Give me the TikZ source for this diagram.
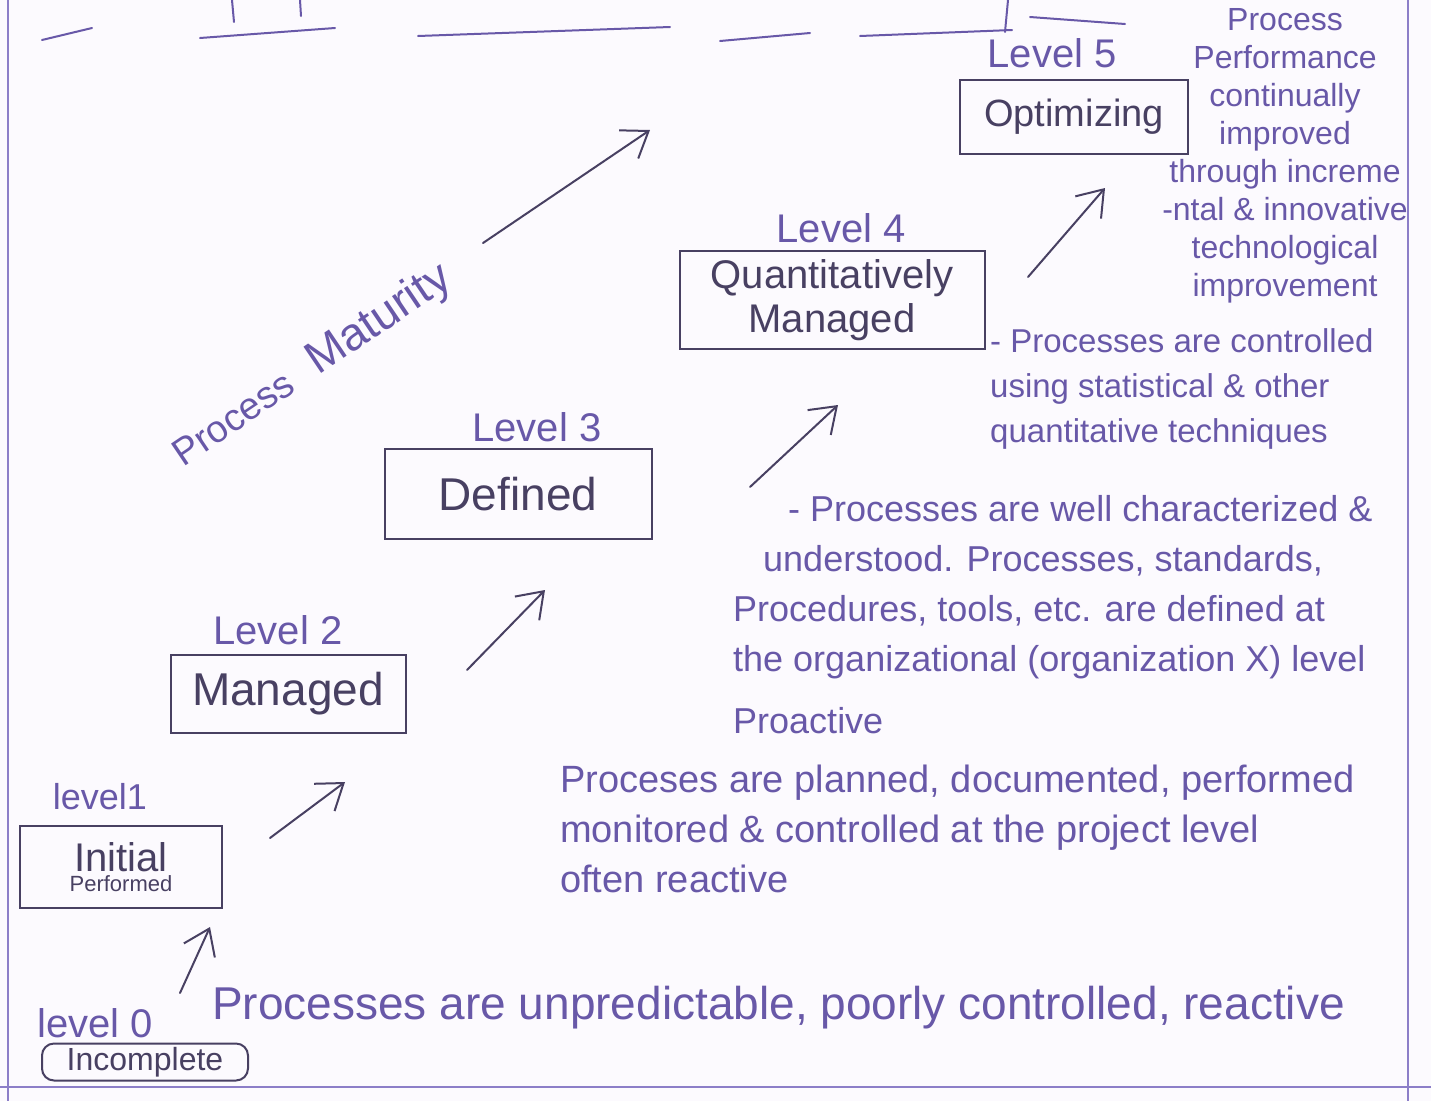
\documentclass[tikz,border=0pt]{standalone}
\usepackage{fontspec}
\setmainfont{Liberation Sans}
\usetikzlibrary{arrows.meta,positioning}
\definecolor{ink}{RGB}{104,88,168}
\definecolor{pencil}{RGB}{72,64,98}
\definecolor{rule}{RGB}{140,126,200}
\definecolor{paper}{RGB}{252,250,254}
\newcommand{\fsz}[2]{\fontsize{#1pt}{#2pt}\selectfont}

\begin{document}
\begin{tikzpicture}[x=1pt,y=-1pt,
  box/.style={draw=pencil,line width=2pt,text=pencil,inner sep=2pt},
  lvl/.style={text=ink,font=\fsz{40}{44}},
  desc/.style={text=ink,inner sep=0pt},
  upar/.style={draw=pencil,line width=2pt,line cap=round,
    -{Straight Barb[length=24pt,width=34pt,line width=2pt]}}]
  % page
  \fill[paper] (0,0) rectangle (1431,1101);
  \useasboundingbox (0,0) rectangle (1431,1101);
  \draw[rule,line width=1.5pt] (8,0) -- (8,1101);
  \draw[rule,line width=1.5pt] (1408,0) -- (1408,1101);
  \draw[rule,line width=2pt] (0,1087) -- (1431,1087);
  % leftover strokes of the heading
  \foreach \xa/\ya/\xb/\yb in {42/40/92/28, 200/38/335/28, 418/36/670/27,
      720/41/810/33, 860/36/1012/30, 1030/17/1125/24}
    \draw[ink,line width=2pt,line cap=round] (\xa,\ya) -- (\xb,\yb);
  \foreach \xa/\xb/\yb in {232/234/22, 300/301/16, 1008/1005/32}
    \draw[ink,line width=2pt,line cap=round] (\xa,0) -- (\xb,\yb);

  % the levels
  \node[box,minimum width=228,minimum height=74,font=\fsz{38}{44}] (opt) at (1074,117) {Optimizing};
  \node[box,minimum width=305,minimum height=98,align=center,font=\fsz{40}{44}] (quant) at (832,300) {Quantitatively\\Managed};
  \node[box,minimum width=267,minimum height=90,font=\fsz{46}{50}] (defd) at (518,494) {Defined};
  \node[box,minimum width=235,minimum height=78,font=\fsz{46}{50}] (mgd) at (288,694) {Managed};
  \node[box,minimum width=202,minimum height=82,align=center] (init) at (121,867)
    {\fsz{40}{38}Initial\\[3pt]\fsz{22}{24}Performed};
  \node[box,rounded corners=12pt,minimum width=206,minimum height=37,inner sep=0pt,font=\fsz{32}{34}] (incomp) at (145,1062) {Incomplete};

  \node[lvl] (l5) at (1052,53) {Level 5};
  \node[lvl] (l4) at (841,228) {Level 4};
  \node[lvl] (l3) at (537,427) {Level 3};
  \node[lvl] (l2) at (278,630) {Level 2};
  \node[lvl,font=\fsz{36}{40}] (l1) at (100,797) {level1};
  \node[lvl] (l0) at (95,1023) {level 0};

  % arrows between the levels
  \coordinate (a01s) at (180,993);  \coordinate (a01e) at (210,927);
  \coordinate (a12s) at (270,838);  \coordinate (a12e) at (345,782);
  \coordinate (a23s) at (467,670);  \coordinate (a23e) at (545,590);
  \coordinate (a34s) at (750,487);  \coordinate (a34e) at (838,405);
  \coordinate (a45s) at (1028,277); \coordinate (a45e) at (1105,188);
  \foreach \a in {a01,a12,a23,a34,a45}
    \draw[upar] (\a s) -- (\a e);

  % maturity axis
  \node[text=ink,rotate=34,font=\fsz{44}{44}] (pm) at (312,366) {\fsz{38}{44}Process\hspace{26pt}\fsz{46}{46}Maturity};
  \coordinate (pmt) at (483,243); \coordinate (pmh) at (650,130);
  \draw[upar] (pmt) -- (pmh);

  % notes
  \node[desc,align=center,anchor=north,font=\fsz{32}{38}] (n5) at (1285,8)
    {Process\\Performance\\continually\\improved\\through increme\\-ntal \& innovative\\technological\\improvement};
  \node[desc,align=left,anchor=north west,font=\fsz{33}{45}] (n4) at (990,328)
    {- Processes are controlled\\using statistical \& other\\quantitative techniques};
  \node[desc,align=left,anchor=north west,font=\fsz{36}{50}] (n3) at (733,495)
    {\hspace*{55pt}- Processes are well characterized \&\\\hspace*{30pt}understood. Processes, standards,\\Procedures, tools, etc. are defined at\\the organizational (organization X) level\\[12pt]Proactive};
  \node[desc,align=left,anchor=north west,font=\fsz{38}{50}] (n2) at (560,765)
    {Proceses are planned, documented, performed\\monitored \& controlled at the project level\\often reactive};
  \node[desc,anchor=west,font=\fsz{46}{50}] (n1) at (212,1008)
    {Processes are unpredictable, poorly controlled, reactive};
\end{tikzpicture}
\end{document}
